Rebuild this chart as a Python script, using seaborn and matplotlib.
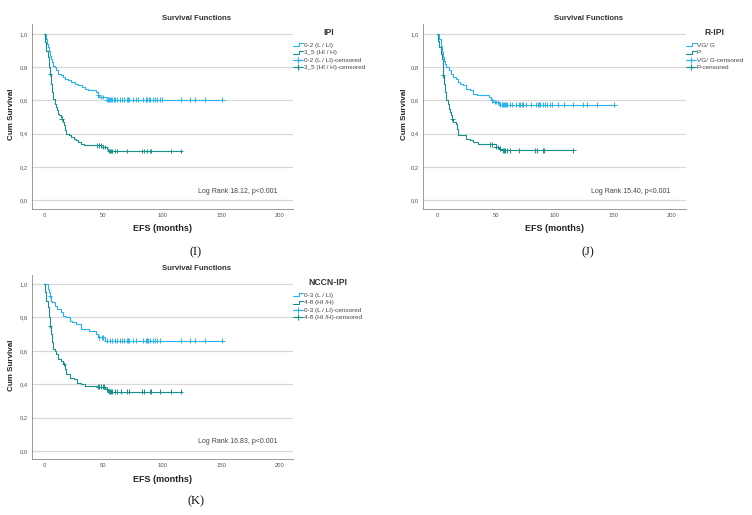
import numpy as np
import pandas as pd
import matplotlib
matplotlib.use("Agg")
import matplotlib.pyplot as plt
import seaborn as sns
from matplotlib.lines import Line2D
from matplotlib.legend_handler import HandlerBase

sns.set_theme(style="white")
plt.rcParams['font.family'] = ['Liberation Sans', 'DejaVu Sans']

LIGHT = "#29b2f0"
DARK = "#178f8a"

# ---------------- data ----------------
# Panel I (IPI)
i_groups = ["0-2 (L / LI)", "3_5 (HI / H)"]
i_light_t = [0, 1.5, 2.5, 3, 4, 5, 6, 7, 8, 9, 10, 12, 14, 16, 18, 20, 23, 26, 29, 32, 35, 37, 44, 46, 47, 53, 151]
i_light_s = [1.0, 0.97, 0.94, 0.92, 0.90, 0.87, 0.85, 0.83, 0.81, 0.80, 0.78, 0.76, 0.75, 0.74, 0.73, 0.72, 0.71, 0.70, 0.69, 0.68, 0.67, 0.66, 0.65, 0.63, 0.62, 0.605, 0.605]
i_light_c = [46, 48, 50, 53, 54, 55, 56, 57, 58, 59, 60, 62, 64, 66, 68, 70, 71, 72, 75, 78, 80, 84, 86, 87, 89, 90, 92, 94, 96, 98, 100, 116, 124, 128, 136, 151]
i_dark_t = [0, 1, 2, 3, 4, 5, 6, 7, 8, 9, 10, 11, 12, 13, 14, 15, 16, 17, 18, 19, 21, 23, 25, 27, 29, 31, 34, 50, 53, 54, 116]
i_dark_s = [1.0, 0.95, 0.90, 0.86, 0.80, 0.76, 0.70, 0.65, 0.61, 0.58, 0.56, 0.54, 0.52, 0.51, 0.50, 0.49, 0.47, 0.45, 0.42, 0.40, 0.39, 0.38, 0.37, 0.36, 0.35, 0.34, 0.33, 0.32, 0.31, 0.295, 0.295]
i_dark_c = [5, 15, 45, 47, 48, 50, 52, 55, 56, 57, 58, 60, 62, 70, 83, 85, 87, 90, 91, 108, 116]

# Panel J (R-IPI)
j_groups = ["VG/ G", "P"]
j_light_t = [0, 2, 3, 4, 5, 6, 7, 8, 10, 12, 14, 16, 18, 20, 22, 25, 28, 31, 34, 44, 46, 48, 53, 151]
j_light_s = [1.0, 0.97, 0.93, 0.89, 0.86, 0.84, 0.82, 0.80, 0.78, 0.76, 0.74, 0.73, 0.71, 0.70, 0.69, 0.67, 0.66, 0.64, 0.63, 0.62, 0.60, 0.59, 0.575, 0.575]
j_light_c = [47, 49, 50, 52, 54, 55, 56, 57, 58, 59, 60, 62, 64, 67, 70, 71, 72, 73, 76, 80, 84, 86, 87, 88, 90, 92, 94, 96, 98, 103, 108, 116, 124, 128, 136, 151]
j_dark_t = [0, 1, 2, 3, 4, 5, 6, 7, 8, 9, 10, 11, 12, 13, 14, 16, 17, 18, 22, 25, 28, 31, 35, 50, 53, 55, 116]
j_dark_s = [1.0, 0.96, 0.92, 0.88, 0.85, 0.75, 0.70, 0.65, 0.60, 0.58, 0.55, 0.53, 0.51, 0.49, 0.47, 0.46, 0.43, 0.39, 0.39, 0.37, 0.36, 0.35, 0.335, 0.32, 0.31, 0.30, 0.30]
j_dark_c = [5, 13, 45, 47, 50, 52, 54, 56, 57, 58, 60, 62, 70, 83, 85, 90, 91, 116]

# Panel K (NCCN-IPI)
k_groups = ["0-3 (L / LI)", "4-8 (HI /H)"]
k_light_t = [0, 3, 4, 5, 6, 7, 9, 11, 14, 16, 19, 22, 24, 27, 31, 38, 44, 46, 52, 151]
k_light_s = [1.0, 0.97, 0.95, 0.93, 0.90, 0.89, 0.87, 0.85, 0.83, 0.81, 0.80, 0.78, 0.77, 0.76, 0.73, 0.72, 0.70, 0.68, 0.66, 0.66]
k_light_c = [5, 47, 49, 50, 53, 56, 58, 60, 62, 64, 66, 68, 70, 71, 72, 75, 78, 84, 86, 87, 88, 90, 92, 94, 96, 98, 116, 124, 128, 136, 151]
k_dark_t = [0, 1, 2, 3, 4, 5, 6, 7, 8, 9, 10, 12, 14, 16, 18, 19, 22, 25, 28, 31, 35, 45, 52, 54, 116]
k_dark_s = [1.0, 0.95, 0.90, 0.86, 0.80, 0.75, 0.70, 0.65, 0.61, 0.60, 0.58, 0.55, 0.54, 0.52, 0.49, 0.46, 0.44, 0.43, 0.41, 0.40, 0.39, 0.385, 0.37, 0.355, 0.355]
k_dark_c = [5, 17, 46, 47, 48, 50, 51, 53, 55, 56, 57, 58, 60, 62, 65, 70, 72, 83, 85, 90, 91, 98, 108, 116]

x_ticks = [0, 50, 100, 150, 200]
y_ticks = [0.0, 0.2, 0.4, 0.6, 0.8, 1.0]
y_tick_labels = ["0,0", "0,2", "0,4", "0,6", "0,8", "1,0"]

W, H = 752, 515
fig = plt.figure(figsize=(W / 100, H / 100), dpi=100)


class HandlerStep(HandlerBase):
    def create_artists(self, legend, orig_handle, xdescent, ydescent, width,
                       height, fontsize, trans):
        x0, y0 = -xdescent, -ydescent
        xs = [x0, x0 + width * 0.55, x0 + width * 0.55, x0 + width]
        ys = [y0 + height * 0.15, y0 + height * 0.15, y0 + height * 0.85, y0 + height * 0.85]
        ln = Line2D(xs, ys, color=orig_handle.get_color(), lw=0.8, transform=trans)
        return [ln]


def frac_box(left, top, right, bottom):
    return [left / W, 1 - bottom / H, (right - left) / W, (bottom - top) / H]


def step_value(t, s, x):
    idx = np.searchsorted(np.asarray(t), x, side="right") - 1
    return np.asarray(s)[np.clip(idx, 0, len(s) - 1)]


def panel(box, xlim, ylim, curves, groups, legend_title, logrank, leg_xy,
          title_x, title_y, ylab_x, xlab_y, letter, letter_y):
    ax = fig.add_axes(frac_box(*box))
    rows, crows = [], []
    for (t, s, c), g in zip(curves, groups):
        for a, b in zip(t, s):
            rows.append({"time": a, "surv": b, "group": g})
        for cx in c:
            crows.append({"time": cx, "surv": float(step_value(t, s, cx)), "group": g})
    df = pd.DataFrame(rows)
    cdf = pd.DataFrame(crows)
    pal = {groups[0]: LIGHT, groups[1]: DARK}
    sns.lineplot(data=df, x="time", y="surv", hue="group", palette=pal,
                 estimator=None, sort=False, drawstyle="steps-post",
                 linewidth=0.8, legend=False, ax=ax)
    sns.scatterplot(data=cdf, x="time", y="surv", hue="group", palette=pal,
                    marker="+", s=11, linewidth=0.7, legend=False, ax=ax, zorder=3)
    ax.set_xlim(*xlim)
    ax.set_ylim(*ylim)
    ax.set_xticks(x_ticks)
    ax.set_xticklabels([str(v) for v in x_ticks])
    ax.set_yticks(y_ticks)
    ax.set_yticklabels(y_tick_labels)
    ax.tick_params(axis="both", labelsize=4.2, colors="#555555", length=1.5,
                   width=0.5, pad=1.5)
    ax.yaxis.grid(True, color="#d8d8d8", linewidth=0.9)
    ax.set_axisbelow(True)
    for sp in ["top", "right"]:
        ax.spines[sp].set_visible(False)
    for sp in ["left", "bottom"]:
        ax.spines[sp].set_color("#8a8a8a")
        ax.spines[sp].set_linewidth(0.6)
    ax.set_xlabel("")
    ax.set_ylabel("")
    ax.text(0.939, 0.097, logrank, transform=ax.transAxes, ha="right",
            va="center", fontsize=5.0, color="#444444")
    fig.text(title_x / W, 1 - title_y / H, "Survival Functions", ha="center",
             va="center", fontsize=5.6, fontweight="bold", color="#333333")
    fig.text(ylab_x / W, 1 - ((box[1] + box[3]) / 2 - 2) / H, "Cum Survival",
             rotation=90, ha="center", va="center", fontsize=5.8,
             fontweight="bold", color="#222222")
    fig.text(((box[0] + box[2]) / 2) / W, 1 - xlab_y / H, "EFS (months)",
             ha="center", va="center", fontsize=6.5, fontweight="bold",
             color="#222222")
    fig.text(title_x / W, 1 - letter_y / H, letter, ha="center", va="center",
             fontsize=9, family="Liberation Serif", color="#111111")
    h1 = Line2D([], [], color=LIGHT, lw=0.8)
    h2 = Line2D([], [], color=DARK, lw=0.8)
    handles = [h1, h2,
               Line2D([], [], color=LIGHT, lw=0.8, marker="+", ms=5, mew=0.8),
               Line2D([], [], color=DARK, lw=0.8, marker="+", ms=5, mew=0.8)]
    labels = [groups[0], groups[1], groups[0] + "-censored", groups[1] + "-censored"]
    leg = fig.legend(handles, labels, loc="upper left",
                     bbox_to_anchor=(leg_xy[0] / W, 1 - leg_xy[1] / H),
                     frameon=False, fontsize=4.6, title=legend_title,
                     handlelength=1.6, handletextpad=0.1, labelspacing=0.3,
                     borderaxespad=0, borderpad=0.0,
                     handler_map={h1: HandlerStep(), h2: HandlerStep()})
    leg.get_title().set_fontsize(6.2)
    leg.get_title().set_fontweight("bold")
    leg.get_title().set_color("#333333")
    leg._legend_box.sep = 4
    for tx in leg.get_texts():
        tx.set_color("#444444")
    return ax


panel((32, 24, 293, 209), (-10.2, 211), (-0.054, 1.06),
      [(i_light_t, i_light_s, i_light_c), (i_dark_t, i_dark_s, i_dark_c)],
      i_groups, "IPI", "Log Rank 18.12, p<0.001", (293, 28),
      196, 19, 12, 229, "(I)", 252)

panel((423, 24, 686, 209), (-11.9, 211.9), (-0.054, 1.06),
      [(j_light_t, j_light_s, j_light_c), (j_dark_t, j_dark_s, j_dark_c)],
      j_groups, "R-IPI", "Log Rank 15.40, p<0.001", (686, 28),
      588, 19, 405, 229, "(J)", 252)

panel((32, 275, 293, 459), (-10.2, 211), (-0.048, 1.054),
      [(k_light_t, k_light_s, k_light_c), (k_dark_t, k_dark_s, k_dark_c)],
      k_groups, "NCCN-IPI", "Log Rank 16.83, p<0.001", (293, 278),
      196, 269, 12, 479, "(K)", 501)

fig.savefig("out.png", dpi=100, facecolor="white")
